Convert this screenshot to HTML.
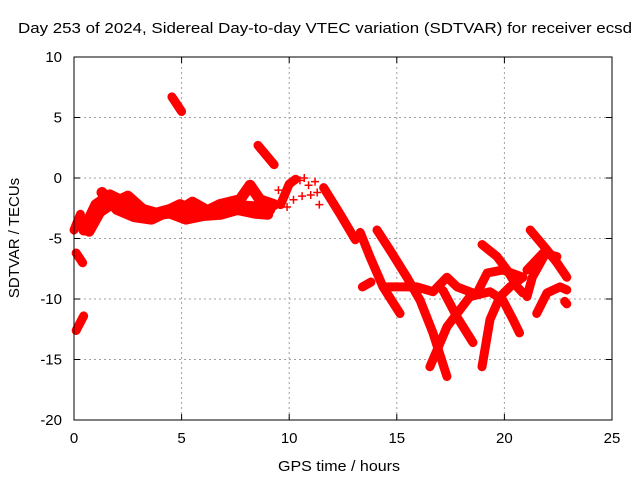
<!DOCTYPE html>
<html><head><meta charset="utf-8">
<style>
html,body{margin:0;padding:0;background:#fff;}
svg{display:block;font-family:"Liberation Sans",sans-serif;}
</style></head>
<body>
<svg id="chart" width="640" height="480" viewBox="0 0 640 480" xmlns="http://www.w3.org/2000/svg">
<rect width="640" height="480" fill="#fff"/>
<text x="18" y="33" font-size="15" textLength="614" lengthAdjust="spacingAndGlyphs">Day 253 of 2024, Sidereal Day-to-day VTEC variation (SDTVAR) for receiver ecsd</text>
<text x="278" y="471" font-size="15" textLength="122" lengthAdjust="spacingAndGlyphs">GPS time / hours</text>
<text transform="translate(19,238) rotate(-90)" font-size="15" text-anchor="middle">SDTVAR / TECUs</text>
<g id="grid"></g>
<g id="marks"></g>
<rect x="74" y="57" width="538" height="363" fill="none" stroke="#000" stroke-width="1"/>
<g id="ticks"></g>
</svg>
<script>
const xTicks = [0, 5, 10, 15, 20, 25];
const yTicks = [-20, -15, -10, -5, 0, 5, 10];
const xHours = {
  t0:[0,0.3], t1:[0.1,0.45], t2:[0.1,0.4], t3:[4.55,5.0], t4:[8.55,9.3],
  b1:[0.46,1.02,1.67,2.6,3.53,4.46,4.93,5.86,6.78,7.71,8.18,8.64,9.29],
  b2:[0.7,1.2,1.7,2.5,3.2,4.0,4.8,5.5,6.2,7.0,7.8,8.5,9.1],
  b3:[1.3,2.0,2.8,3.6,4.3,5.2,6.0,6.8,7.6,8.4,9.0],
  c1:[9.6,10.0,10.3],
  d1:[11.6,12.37,13.07],
  d2:[13.3,13.75,14.36,15.15],
  d3:[14.08,14.68,15.47,16.08,16.68,17.33],
  e1:[16.54,17.33,18.4,19.33,19.93,20.4,20.7],
  e2:[14.54,15.94,16.68,17.33,17.8,18.54],
  e3:[17.15,17.8,18.54],
  e4:[18.96,19.33,19.8,20.26,20.86],
  e5:[18.96,19.66,20.12,20.6,20.86],
  e6:[18.73,19.2,19.93,20.86],
  f1:[21.2,21.98,22.44,22.9],
  f2:[21.05,21.8,22.44],
  f3:[21.05,21.3,21.8],
  f4:[21.5,21.98,22.58,22.9],
  f5:[22.8,22.9],
  g1:[13.4,13.8]
};
const yValues = {
  t0:[-4.3,-3.0], t1:[-12.6,-11.4], t2:[-6.2,-7.0], t3:[6.7,5.5], t4:[2.7,1.1],
  b1:[-4.3,-2.2,-1.4,-2.2,-3.05,-2.6,-2.2,-3.0,-2.2,-1.8,-0.6,-1.8,-2.2],
  b2:[-4.4,-2.8,-2.2,-1.5,-2.6,-3.0,-2.8,-2.0,-2.7,-2.5,-2.3,-2.4,-2.6],
  b3:[-1.2,-2.6,-3.2,-3.4,-2.8,-3.4,-3.1,-3.0,-2.6,-2.9,-3.0],
  c1:[-2.2,-0.5,-0.1],
  d1:[-0.8,-3.0,-5.1],
  d2:[-4.5,-6.5,-9.0,-11.2],
  d3:[-4.3,-5.95,-8.2,-10.1,-12.8,-16.4],
  e1:[-15.6,-12.3,-9.8,-9.4,-10.1,-11.7,-12.8],
  e2:[-9.0,-9.0,-9.4,-8.2,-9.0,-9.5],
  e3:[-9.3,-11.5,-13.6],
  e4:[-15.6,-11.7,-9.8,-9.0,-8.2],
  e5:[-5.5,-6.5,-7.6,-9.0,-9.5],
  e6:[-9.5,-7.85,-7.6,-8.2],
  f1:[-4.3,-5.95,-7.0,-8.2],
  f2:[-7.6,-6.2,-6.5],
  f3:[-9.8,-8.2,-6.6],
  f4:[-11.2,-9.5,-9.0,-9.25],
  f5:[-10.2,-10.4],
  g1:[-9.0,-8.6]
};
const scatterHours = [9.5,9.9,10.5,10.7,10.9,11.0,11.2,11.3,10.6,11.4,10.2];
const scatterValues = [-1.0,-2.4,-0.2,0.0,-0.6,-1.4,-0.3,-1.2,-1.5,-2.2,-1.8];

const X0=74,X1=612,Y0=420,Y1=57;
function sx(h){return X0+(h-0)/(25-0)*(X1-X0);}
function sy(v){return Y0-(v+20)/(30)*(Y0-Y1);}
const NS="http://www.w3.org/2000/svg";
const grid=document.getElementById('grid'), ticks=document.getElementById('ticks'), marks=document.getElementById('marks');
function mk(tag,attrs,parent){const e=document.createElementNS(NS,tag);for(const k in attrs)e.setAttribute(k,attrs[k]);parent.appendChild(e);return e;}
xTicks.forEach(t=>{
  const x=sx(t);
  if(t>0&&t<25){const g=mk('line',{x1:x,x2:x,y1:Y1,y2:Y0,stroke:'#a0a0a0','stroke-dasharray':'2,3'},grid);
  
  }
  const a=mk('line',{x1:x,x2:x,y1:Y0,y2:Y0-6,stroke:'#000'},ticks);
  
  
  const b=mk('line',{x1:x,x2:x,y1:Y1,y2:Y1+6,stroke:'#000'},ticks);
  
  
  const l=mk('text',{x:x,y:443,'font-size':15,'text-anchor':'middle'},ticks);l.textContent=t;
  
  
});
yTicks.forEach(t=>{
  const y=sy(t);
  if(t>-20&&t<10){const g=mk('line',{x1:X0,x2:X1,y1:y,y2:y,stroke:'#a0a0a0','stroke-dasharray':'2,3'},grid);
  
  }
  const a=mk('line',{x1:X0,x2:X0+6,y1:y,y2:y,stroke:'#000'},ticks);
  
  
  const b=mk('line',{x1:X1,x2:X1-6,y1:y,y2:y,stroke:'#000'},ticks);
  
  
  const l=mk('text',{x:62,y:y+5,'font-size':15,'text-anchor':'end'},ticks);l.textContent=t;
  
  
});
function plus(x,y){
  const p=mk('path',{d:`M${x-4},${y}H${x+4}M${x},${y-4}V${y+4}`,stroke:'#f00','stroke-width':1.5},marks);
  
  
}
Object.keys(xHours).forEach(k=>{
  const hs=xHours[k], vs=yValues[k];
  const pts=hs.map((h,i)=>sx(h)+','+sy(vs[i])).join(' ');
  const pl=mk('polyline',{points:pts,fill:'none',stroke:'#f00','stroke-width':k.startsWith('b')?11:9,'stroke-linejoin':'round','stroke-linecap':'round'},marks);
  
  
  hs.forEach((h,i)=>plus(sx(h),sy(vs[i])));
});
scatterHours.forEach((h,i)=>plus(sx(h),sy(scatterValues[i])));
</script>
</body></html>
